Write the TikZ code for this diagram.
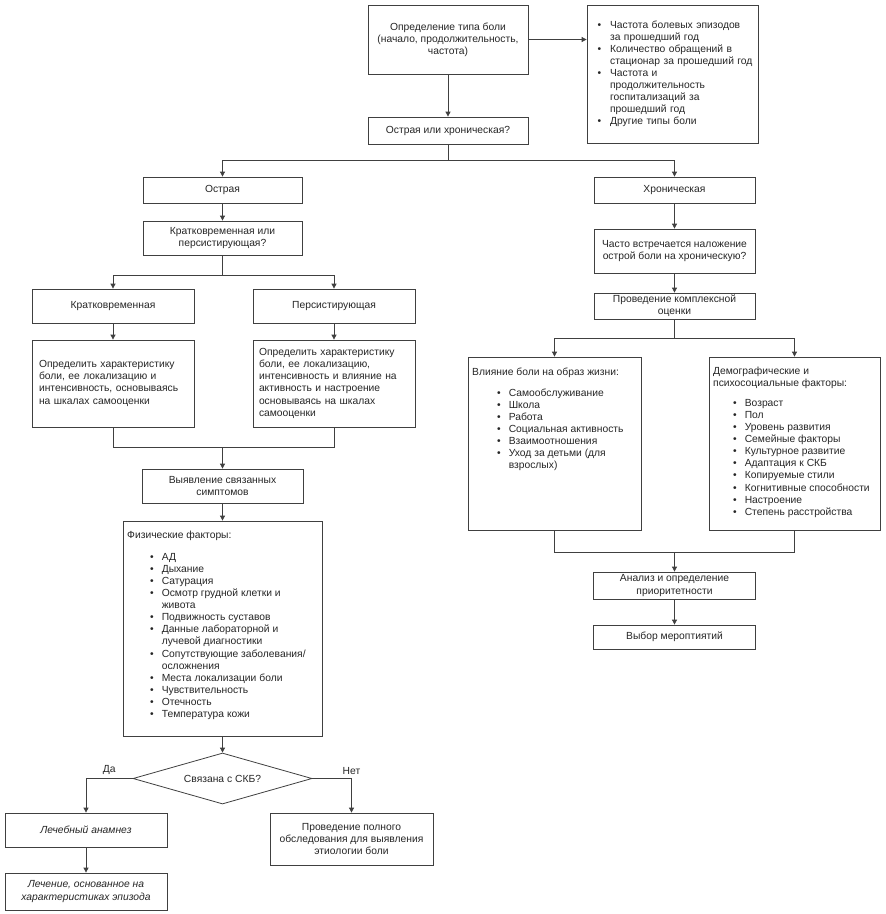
\documentclass[tikz,border=0pt]{standalone}
\usepackage{fontspec}
\setmainfont{Liberation Sans}
\usetikzlibrary{arrows.meta,shapes.geometric}
\newcommand\dfont{\fontsize{10.3}{12.1}\selectfont}
\begin{document}
\begin{tikzpicture}[x=1pt,y=-1pt,
  box/.style={draw=black!75, line width=0.8pt, rectangle, align=center, font=\dfont, inner sep=1pt, text=black!85},
  wh/.style 2 args={minimum width=#1pt, minimum height=#2pt},
  conn/.style={draw=black!75, line width=0.8pt},
  arr/.style={conn, -{Triangle[length=5pt,width=5pt]}},
  lbl/.style={font=\dfont, text=black!85},
]
\fill[white] (0,0) rectangle (886,914);
\useasboundingbox (0,0) rectangle (886,914);

% top
\node[box, wh={160}{69}] (def) at (448,39.5) {Определение типа боли\\(начало, продолжительность,\\частота)};
\node[box, wh={171}{138}, inner sep=0pt, text width=171pt, align=left] (hist) at (672.5,74) {\begin{tabular}{@{\hspace{10.5pt}}c@{\hspace{9pt}}l@{}}
\textbullet & Частота болевых эпизодов\\
 & за прошедший год\\
\textbullet & Количество обращений в\\
 & стационар за прошедший год\\
\textbullet & Частота и\\
 & продолжительность\\
 & госпитализаций за\\
 & прошедший год\\
\textbullet & Другие типы боли
\end{tabular}};
\node[box, wh={160}{27}] (aoc) at (448,130.5) {Острая или хроническая?};
\coordinate (j1) at (448,160);

% acute branch
\node[box, wh={159}{26}] (acute) at (222.5,190) {Острая};
\node[box, wh={159}{34}] (kp) at (222.5,238) {Кратковременная или\\персистирующая?};
\coordinate (j2) at (222.5,275);
\node[box, wh={162}{34}] (kr) at (113,306) {Кратковременная};
\node[box, wh={162}{34}] (pers) at (334,306) {Персистирующая};
\node[box, wh={162}{87}, inner sep=0pt, text width=162pt, align=left] (krd) at (113,383.5) {\begin{tabular}{@{\hspace{7pt}}l@{}}Определить характеристику\\боли, ее локализацию и\\интенсивность, основываясь\\на шкалах самооценки\end{tabular}};
\node[box, wh={162}{87}, inner sep=0pt, text width=162pt, align=left] (persd) at (334,383.5) {\begin{tabular}{@{\hspace{6pt}}l@{}}Определить характеристику\\боли, ее локализацию,\\интенсивность и влияние на\\активность и настроение\\основываясь на шкалах\\самооценки\end{tabular}};
\coordinate (j3) at (222.5,447);
\node[box, wh={161}{34}] (sym) at (222.5,486) {Выявление связанных\\симптомов};
\node[box, wh={199}{215}] (phys) at (222.5,628.5) {};
\node[lbl, anchor=north west, inner sep=0pt, align=left] (physT) at (127,529.5) {\begin{tabular}{@{\hspace{23pt}}c@{\hspace{8pt}}l@{}}
\multicolumn{2}{@{}l@{}}{Физические факторы:}\\[10pt]
\textbullet & АД\\
\textbullet & Дыхание\\
\textbullet & Сатурация\\
\textbullet & Осмотр грудной клетки и\\
 & живота\\
\textbullet & Подвижность суставов\\
\textbullet & Данные лабораторной и\\
 & лучевой диагностики\\
\textbullet & Сопутствующие заболевания/\\
 & осложнения\\
\textbullet & Места локализации боли\\
\textbullet & Чувствительность\\
\textbullet & Отечность\\
\textbullet & Температура кожи
\end{tabular}};
\node[draw=black!75, line width=0.8pt, diamond, aspect=3.5, minimum width=179pt, minimum height=51pt, inner sep=0pt, font=\dfont, text=black!85] (ckb) at (222.5,778.5) {Связана с СКБ?};
\node[box, wh={162}{34}, font=\dfont\itshape] (hist2) at (86,830) {Лечебный анамнез};
\node[box, wh={162}{37}, font=\dfont\itshape] (treat) at (86,891.5) {Лечение, основанное на\\характеристиках эпизода};
\node[box, wh={163}{52}] (full) at (351.5,839) {Проведение полного\\обследования для выявления\\этиологии боли};

% chronic branch
\node[box, wh={161}{26}] (chron) at (674.5,190) {Хроническая};
\node[box, wh={161}{44}] (often) at (674.5,251) {Часто встречается наложение\\острой боли на хроническую?};
\node[box, wh={161}{26}, inner ysep=0.5pt] (compl) at (674.5,306) {Проведение комплексной\\оценки};
\coordinate (j4) at (674.5,338);
\node[box, wh={173}{173}] (life) at (554.5,443.5) {};
\node[lbl, anchor=north west, inner sep=0pt, align=left] (lifeT) at (472,366.5) {\begin{tabular}{@{\hspace{25pt}}c@{\hspace{8pt}}l@{}}
\multicolumn{2}{@{}l@{}}{Влияние боли на образ жизни:}\\[9pt]
\textbullet & Самообслуживание\\
\textbullet & Школа\\
\textbullet & Работа\\
\textbullet & Социальная активность\\
\textbullet & Взаимоотношения\\
\textbullet & Уход за детьми (для\\
 & взрослых)
\end{tabular}};
\node[box, wh={171}{173}] (demo) at (794.5,443.5) {};
\node[lbl, anchor=north west, inner sep=0pt, align=left] (demoT) at (713,365.5) {\begin{tabular}{@{\hspace{20pt}}c@{\hspace{8pt}}l@{}}
\multicolumn{2}{@{}l@{}}{Демографические и}\\
\multicolumn{2}{@{}l@{}}{психосоциальные факторы:}\\[8pt]
\textbullet & Возраст\\
\textbullet & Пол\\
\textbullet & Уровень развития\\
\textbullet & Семейные факторы\\
\textbullet & Культурное развитие\\
\textbullet & Адаптация к СКБ\\
\textbullet & Копируемые стили\\
\textbullet & Когнитивные способности\\
\textbullet & Настроение\\
\textbullet & Степень расстройства
\end{tabular}};
\coordinate (j5) at (674.5,552);
\node[box, wh={162}{27}, inner ysep=0.5pt] (anal) at (674.5,585.5) {Анализ и определение\\приоритетности};
\node[box, wh={162}{24}] (choice) at (674.5,637) {Выбор мероптиятий};

% connectors
\draw[arr] (def) -- (aoc);
\draw[arr] (def.east) -- (def.east -| hist.west);
\draw[conn] (aoc) -- (j1);
\draw[arr] (j1) -| (acute);
\draw[arr] (j1) -| (chron);
\draw[arr] (acute) -- (kp);
\draw[conn] (kp) -- (j2);
\draw[arr] (j2) -| (kr);
\draw[arr] (j2) -| (pers);
\draw[arr] (kr) -- (krd);
\draw[arr] (pers) -- (persd);
\draw[conn] (krd) |- (j3);
\draw[conn] (persd) |- (j3);
\draw[arr] (j3) -- (sym);
\draw[arr] (sym) -- (phys);
\draw[arr] (phys) -- (ckb);
\draw[arr] (ckb) -| node[lbl, pos=0.25, above] (yes) {Да} (hist2);
\draw[arr] (ckb) -| node[lbl, pos=0.5, above] (no) {Нет} (full);
\draw[arr] (hist2) -- (treat);
\draw[arr] (chron) -- (often);
\draw[arr] (often) -- (compl);
\draw[conn] (compl) -- (j4);
\draw[arr] (j4) -| (life);
\draw[arr] (j4) -| (demo);
\draw[conn] (life) |- (j5);
\draw[conn] (demo) |- (j5);
\draw[arr] (j5) -- (anal);
\draw[arr] (anal) -- (choice);
\end{tikzpicture}
\end{document}
